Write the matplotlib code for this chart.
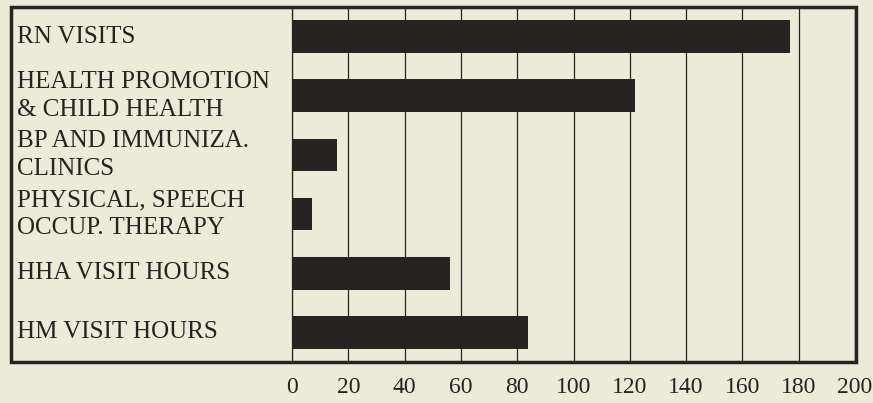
import matplotlib.pyplot as plt
from matplotlib.patches import Rectangle
import matplotlib.transforms as mtransforms

categories = ["RN VISITS",
              "HEALTH PROMOTION\n& CHILD HEALTH",
              "BP AND IMMUNIZA.\nCLINICS",
              "PHYSICAL, SPEECH\nOCCUP. THERAPY",
              "HHA VISIT HOURS",
              "HM VISIT HOURS"]
values = [177, 122, 16, 7, 56, 84]
xticks = [0, 20, 40, 60, 80, 100, 120, 140, 160, 180, 200]

bg = "#ecebd7"
ink = "#252420"

plt.rcParams['font.family'] = ['Liberation Serif', 'DejaVu Serif']

fig = plt.figure(figsize=(8.73, 4.03), dpi=100, facecolor=bg)
ax = fig.add_axes([292 / 873, 1 - 362 / 403, (855 - 292) / 873, (362 - 7) / 403])
ax.set_facecolor(bg)

pos = list(range(len(categories)))
ax.barh(pos, values, height=0.55, color=ink, zorder=3)

ax.set_xlim(0, 200)
ax.set_ylim(len(categories) - 0.5, -0.5)
ax.set_xticks(xticks)
ax.set_xticklabels([str(t) for t in xticks], fontsize=17, color=ink)
ax.tick_params(axis='x', length=0, pad=11)
ax.set_yticks([])
ax.grid(axis='x', color=ink, linewidth=0.9, zorder=1)
for s in ['top', 'right', 'bottom']:
    ax.spines[s].set_visible(False)
ax.spines['left'].set_linewidth(0.9)
ax.spines['left'].set_color(ink)

# category labels inside the left part of the frame
trans = mtransforms.blended_transform_factory(fig.transFigure, ax.transData)
for i, label in enumerate(categories):
    ax.text(17 / 873, i, label, transform=trans, ha='left', va='center',
            fontsize=18, color=ink, linespacing=1.35, clip_on=False)

# outer frame enclosing labels and plot
fig.patches.append(Rectangle((11 / 873, 1 - 362 / 403), (856 - 11) / 873, (362 - 7) / 403,
                             transform=fig.transFigure, fill=False,
                             edgecolor=ink, linewidth=2.5, zorder=5))

fig.savefig("out.png", dpi=100, facecolor=bg)
